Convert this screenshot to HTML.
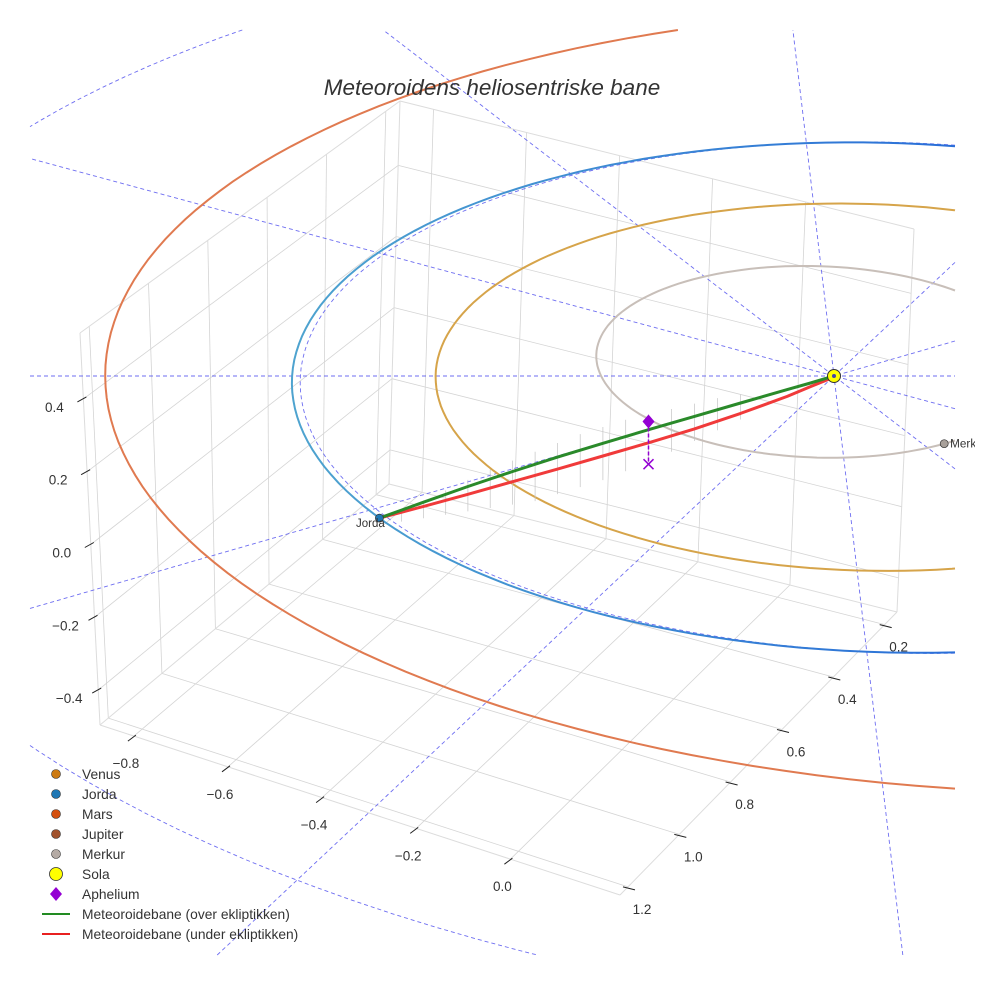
<!DOCTYPE html>
<html><head><meta charset="utf-8">
<style>
html,body{margin:0;padding:0;background:#fff;width:984px;height:984px;overflow:hidden;}
svg{display:block;}
text{font-family:"Liberation Sans","DejaVu Sans",sans-serif;fill:#333;}
</style></head>
<body>
<svg id="chart" xmlns="http://www.w3.org/2000/svg" width="984" height="984" viewBox="0 0 984 984">
<defs>
<clipPath id="textClip"><rect x="0" y="0" width="975" height="984"/></clipPath>
<linearGradient id="earthGrad" gradientUnits="userSpaceOnUse" x1="300" y1="0" x2="955" y2="0">
<stop offset="0" stop-color="#4ea3cf"/><stop offset="1" stop-color="#2a6fd8"/></linearGradient>
</defs>
<rect width="984" height="984" fill="#fff"/>
<g id="grid"></g>
<g id="plot"></g>
<g id="marks" clip-path="url(#textClip)"></g>
<g id="ticks"></g>
<text x="492" y="95" text-anchor="middle" font-size="22.5" font-style="italic">Meteoroidens heliosentriske bane</text>
<g id="legend" font-size="13.8">
 <g><circle cx="56" cy="774" r="4.5" fill="#cc7a12" stroke="#333" stroke-width="0.6"/><text x="82" y="779">Venus</text></g>
 <g><circle cx="56" cy="794" r="4.5" fill="#1f77b4" stroke="#333" stroke-width="0.6"/><text x="82" y="799">Jorda</text></g>
 <g><circle cx="56" cy="814" r="4.5" fill="#d4500f" stroke="#333" stroke-width="0.6"/><text x="82" y="819">Mars</text></g>
 <g><circle cx="56" cy="834" r="4.5" fill="#a0522d" stroke="#333" stroke-width="0.6"/><text x="82" y="839">Jupiter</text></g>
 <g><circle cx="56" cy="854" r="4.5" fill="#b4aaa4" stroke="#333" stroke-width="0.6"/><text x="82" y="859">Merkur</text></g>
 <g><circle cx="56" cy="874" r="6.5" fill="#ffff00" stroke="#333" stroke-width="0.8"/><text x="82" y="879">Sola</text></g>
 <g><path d="M56,887 L62,894 L56,901 L50,894 Z" fill="#9400d3"/><text x="82" y="899">Aphelium</text></g>
 <g><line x1="42" y1="914" x2="70" y2="914" stroke="#228b22" stroke-width="2"/><text x="82" y="919">Meteoroidebane (over ekliptikken)</text></g>
 <g><line x1="42" y1="934" x2="70" y2="934" stroke="#e82020" stroke-width="2"/><text x="82" y="939">Meteoroidebane (under ekliptikken)</text></g>
</g>
</svg>
<script>
// ---------- data ----------
const xTicks = [-0.8, -0.6, -0.4, -0.2, 0.0];
const yTicks = [0.2, 0.4, 0.6, 0.8, 1.0, 1.2];
const zTicks = [-0.4, -0.2, 0.0, 0.2, 0.4];
const xTickLabels = ["−0.8", "−0.6", "−0.4", "−0.2", "0.0"];
const yTickLabels = ["0.2", "0.4", "0.6", "0.8", "1.0", "1.2"];
const zTickLabels = ["−0.4", "−0.2", "0.0", "0.2", "0.4"];
const xRange = [-0.872, 0.233];
const yRange = [0.152, 1.231];
const zRange = [-0.496, 0.581];

const planetNames = ["Merkur", "Venus", "Jorda", "Mars"];
const planetA = [0.387, 0.723, 1.0, 1.524];
const planetE = [0.206, 0.007, 0.017, 0.093];
const planetPeri = [300, 0, 0, 225];
const planetColors = ["#c8bfb9", "#d6a44a", "url(#earthGrad)", "#e07a50"];
const markerNames = ["Jorda", "Merkur"];
const markerIdx = [2, 0];
const markerAngle = [215, 303];
const markerColors = ["#1f77b4", "#a8a09a"];

const refCircles = [1.0, 2.1];
const radialAngles = [0, 33, 63, 90, 117, 147];

const trackS = [1, 0.9, 0.8, 0.7, 0.6, 0.5, 0.4, 0.3, 0.2, 0.1, 0.05, 0];
const zGreen = [0, 0.006, 0.011, 0.014, 0.015, 0.014, 0.012, 0.009, 0.006, 0.003, 0.001, 0];
const zRed = [0, -0.006, -0.011, -0.015, -0.019, -0.022, -0.025, -0.026, -0.023, -0.016, -0.009, -0.003];
const stemS = [0.95, 0.9, 0.85, 0.8, 0.75, 0.7, 0.65, 0.6, 0.55, 0.5, 0.45, 0.4, 0.35, 0.3, 0.25, 0.2];
const stemTop = [0.0, 0.01, 0.02, 0.03, 0.04, 0.045, 0.05, 0.055, 0.06, 0.06, 0.06, 0.055, 0.05, 0.045, 0.04, 0.03];
const stemBot = [-0.03, -0.04, -0.05, -0.06, -0.07, -0.08, -0.09, -0.09, -0.09, -0.09, -0.085, -0.08, -0.07, -0.06, -0.05, -0.04];
const aphelionS = [0.4];
const aphelionZ = [0.035];
const aphelionFootZ = [-0.085];

// ---------- projection ----------
const NS = "http://www.w3.org/2000/svg";
function mk(tag, attrs, parent) {
  const el = document.createElementNS(NS, tag);
  for (const k in attrs) el.setAttribute(k, attrs[k]);
  parent.appendChild(el);
  return el;
}
const SUN = [834, 376];
const AX = 587, BX = -30, BY = -252.6, MU = 0.1, KV = 0.0844, ZS = 360;
const CLIP = [30, 30, 955, 955];
function proj(u, v, z) {
  const w = 1 - MU * u + KV * v;
  return [SUN[0] + (AX * u + BX * v) / w, SUN[1] + (BY * v - ZS * (z || 0)) / w];
}
function clipSeg(p, q) {
  let t0 = 0, t1 = 1;
  const dx = q[0] - p[0], dy = q[1] - p[1];
  const P = [-dx, dx, -dy, dy];
  const Q = [p[0] - CLIP[0], CLIP[2] - p[0], p[1] - CLIP[1], CLIP[3] - p[1]];
  for (let i = 0; i < 4; i++) {
    if (P[i] === 0) { if (Q[i] < 0) return null; }
    else {
      const r = Q[i] / P[i];
      if (P[i] < 0) { if (r > t1) return null; if (r > t0) t0 = r; }
      else { if (r < t0) return null; if (r < t1) t1 = r; }
    }
  }
  return [[p[0] + t0 * dx, p[1] + t0 * dy], [p[0] + t1 * dx, p[1] + t1 * dy]];
}
function clippedPath(pts) {
  let d = "", last = null;
  for (let i = 0; i < pts.length - 1; i++) {
    const s = clipSeg(pts[i], pts[i + 1]);
    if (!s) { last = null; continue; }
    if (!last || Math.abs(last[0] - s[0][0]) > 0.01 || Math.abs(last[1] - s[0][1]) > 0.01)
      d += "M" + s[0][0].toFixed(1) + "," + s[0][1].toFixed(1);
    d += "L" + s[1][0].toFixed(1) + "," + s[1][1].toFixed(1);
    last = s[1];
  }
  return d || "M0,0";
}
const BC = {
  "000": [389, 484], "100": [897, 612], "010": [100, 725], "110": [620, 895],
  "001": [400, 101], "101": [914, 229], "011": [80, 333], "111": [618, 500]
};
function box(x, y, z) {
  const tx = (x - xRange[0]) / (xRange[1] - xRange[0]);
  const ty = (y - yRange[0]) / (yRange[1] - yRange[0]);
  const tz = (z - zRange[0]) / (zRange[1] - zRange[0]);
  let px = 0, py = 0;
  for (const key in BC) {
    const a = +key[0], b = +key[1], c = +key[2];
    const wgt = (a ? tx : 1 - tx) * (b ? ty : 1 - ty) * (c ? tz : 1 - tz);
    px += wgt * BC[key][0]; py += wgt * BC[key][1];
  }
  return [px, py];
}
function line(g, p, q, stroke, sw, extra) {
  const attrs = { x1: p[0].toFixed(1), y1: p[1].toFixed(1), x2: q[0].toFixed(1), y2: q[1].toFixed(1), stroke: stroke, "stroke-width": sw };
  if (extra) for (const k in extra) attrs[k] = extra[k];
  return mk("line", attrs, g);
}

// ---------- grid ----------
const grid = document.getElementById("grid");
const X0 = xRange[0], X1 = xRange[1], Y0 = yRange[0], Y1 = yRange[1], Z0 = zRange[0], Z1 = zRange[1];
const GC = "#d4d4d4";
zTicks.forEach(z => {
  let el = line(grid, box(X0, Y1, z), box(X0, Y0, z), GC, 0.8);
  
  
  el = line(grid, box(X0, Y0, z), box(X1, Y0, z), GC, 0.8);
  
  
});
yTicks.forEach(y => {
  let el = line(grid, box(X0, y, Z0), box(X0, y, Z1), GC, 0.8);
  
  
  el = line(grid, box(X0, y, Z0), box(X1, y, Z0), GC, 0.8);
  
  
});
xTicks.forEach(x => {
  let el = line(grid, box(x, Y0, Z0), box(x, Y0, Z1), GC, 0.8);
  
  
  el = line(grid, box(x, Y0, Z0), box(x, Y1, Z0), GC, 0.8);
  
  
});
[["010","011"],["011","001"],["001","000"],["000","010"],["000","100"],["100","101"],["101","001"],["010","110"],["110","100"]].forEach(pr => {
  const el = line(grid, BC[pr[0]], BC[pr[1]], "#dcdcdc", 1);
  
  
});

// ---------- ticks ----------
const ticks = document.getElementById("ticks");
xTicks.forEach((x, i) => {
  const e = box(x, Y1, Z0);
  const t = line(ticks, [e[0] + 2, e[1] - 1], [e[0] - 6, e[1] + 5], "#222", 1);
  
  
  const lb = mk("text", { x: (e[0] - 8).toFixed(1), y: (e[1] + 32).toFixed(1), "text-anchor": "middle", "font-size": "13.5" }, ticks);
  lb.textContent = xTickLabels[i];
  
  
});
yTicks.forEach((y, i) => {
  const e = box(X1, y, Z0);
  const t = line(ticks, [e[0] - 5, e[1]], [e[0] + 7, e[1] + 3], "#222", 1);
  
  
  const lb = mk("text", { x: (e[0] + 14).toFixed(1), y: (e[1] + 27).toFixed(1), "text-anchor": "middle", "font-size": "13.5" }, ticks);
  lb.textContent = yTickLabels[i];
  
  
});
zTicks.forEach((z, i) => {
  const e = box(X0, Y1, z);
  const t = line(ticks, [e[0] + 3, e[1] - 2], [e[0] - 6, e[1] + 3], "#222", 1);
  
  
  const lb = mk("text", { x: (e[0] - 29).toFixed(1), y: (e[1] + 13).toFixed(1), "text-anchor": "middle", "font-size": "13.5" }, ticks);
  lb.textContent = zTickLabels[i];
  
  
});

// ---------- plot ----------
const plot = document.getElementById("plot");
function orbitR(i, th) {
  const a = planetA[i], e = planetE[i];
  return a * (1 - e * e) / (1 + e * Math.cos((th - planetPeri[i]) * Math.PI / 180));
}
function orbitPoint(i, th) {
  const r = orbitR(i, th), t = th * Math.PI / 180;
  return proj(r * Math.cos(t), r * Math.sin(t), 0);
}
function pathFrom(pts) {
  return pts.map((p, k) => (k ? "L" : "M") + p[0].toFixed(1) + "," + p[1].toFixed(1)).join("");
}
radialAngles.forEach(a => {
  const t = a * Math.PI / 180, R = 3.5;
  const pts = [];
  for (let k = -20; k <= 20; k++) pts.push(proj(R * k / 20 * Math.cos(t), R * k / 20 * Math.sin(t), 0));
  const el = mk("path", { d: clippedPath(pts), fill: "none", stroke: "#5555ee", "stroke-width": 0.9, "stroke-dasharray": "4,3", opacity: "0.85" }, plot);
  
  
});
refCircles.forEach(r => {
  const pts = [];
  for (let th = 0; th <= 360; th += 2) { const t = th * Math.PI / 180; pts.push(proj(r * Math.cos(t), r * Math.sin(t), 0)); }
  const el = mk("path", { d: clippedPath(pts), fill: "none", stroke: "#5555ee", "stroke-width": 0.9, "stroke-dasharray": "4,3", opacity: "0.85" }, plot);
  
  
});
planetNames.forEach((nm, i) => {
  const pts = [];
  for (let th = 0; th <= 360; th += 2) pts.push(orbitPoint(i, th));
  const el = mk("path", { d: clippedPath(pts), fill: "none", stroke: planetColors[i], "stroke-width": 2 }, plot);
  
  
});
const ei = markerIdx[0];
const thE = markerAngle[0] * Math.PI / 180;
const rE = orbitR(ei, markerAngle[0]);
const uE = rE * Math.cos(thE), vE = rE * Math.sin(thE);
stemS.forEach((s, k) => {
  const el = line(plot, proj(s * uE, s * vE, stemTop[k]), proj(s * uE, s * vE, stemBot[k]), "#c4c4c4", 0.7);
  
  
});
const redPts = trackS.map((s, k) => proj(s * uE, s * vE, zRed[k]));
const greenPts = trackS.map((s, k) => proj(s * uE, s * vE, zGreen[k]));
let el = mk("path", { d: pathFrom(redPts), fill: "none", stroke: "#f03a3a", "stroke-width": 3, "stroke-linecap": "round", "stroke-linejoin": "round" }, plot);


el = mk("path", { d: pathFrom(greenPts), fill: "none", stroke: "#2a8a2a", "stroke-width": 3, "stroke-linecap": "round", "stroke-linejoin": "round" }, plot);


const ap = proj(aphelionS[0] * uE, aphelionS[0] * vE, aphelionZ[0]);
const apF = proj(aphelionS[0] * uE, aphelionS[0] * vE, aphelionFootZ[0]);
el = line(plot, ap, apF, "#9400d3", 1.5, { "stroke-dasharray": "4,2" });


el = mk("path", { d: `M${apF[0]-5},${apF[1]-5}L${apF[0]+5},${apF[1]+5}M${apF[0]+5},${apF[1]-5}L${apF[0]-5},${apF[1]+5}`, stroke: "#9400d3", "stroke-width": 1.5, fill: "none" }, plot);


el = mk("path", { d: `M${ap[0]},${ap[1]-7}L${ap[0]+6},${ap[1]}L${ap[0]},${ap[1]+7}L${ap[0]-6},${ap[1]}Z`, fill: "#9400d3" }, plot);



// ---------- markers ----------
const marks = document.getElementById("marks");
markerNames.forEach((nm, k) => {
  const p = orbitPoint(markerIdx[k], markerAngle[k]);
  const c = mk("circle", { cx: p[0].toFixed(1), cy: p[1].toFixed(1), r: 4, fill: markerColors[k], stroke: "#333", "stroke-width": 0.7 }, marks);
  
  
  const tx = k === 0 ? mk("text", { x: (p[0] - 9).toFixed(1), y: (p[1] + 9).toFixed(1), "text-anchor": "middle", "font-size": "11.5", fill: "#000" }, marks)
                     : mk("text", { x: (p[0] + 6).toFixed(1), y: (p[1] + 4).toFixed(1), "font-size": "11.5", fill: "#000", textLength: "26", lengthAdjust: "spacingAndGlyphs" }, marks);
  tx.textContent = k === 0 ? nm : "Merk";
  
  
});
const sp = proj(0, 0, 0);
el = mk("circle", { cx: sp[0], cy: sp[1], r: 6.5, fill: "#ffff00", stroke: "#333", "stroke-width": 1 }, marks);


el = mk("circle", { cx: sp[0], cy: sp[1], r: 2, fill: "#4444aa" }, marks);


</script>
</body></html>
